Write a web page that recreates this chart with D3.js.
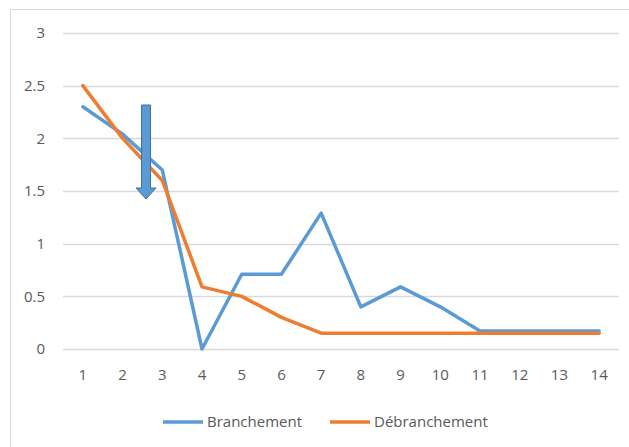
<!DOCTYPE html>
<html>
<head>
<meta charset="utf-8">
<script src="https://cdn.jsdelivr.net/npm/d3@7"></script>
<style>
  body { margin: 0; background: #fff; }
  text { font-family: "Open Sans", sans-serif; }
</style>
</head>
<body>
<div id="chart"></div>
<script>
var categories = [1, 2, 3, 4, 5, 6, 7, 8, 9, 10, 11, 12, 13, 14];
var branchement = [2.3, 2.04, 1.7, 0, 0.71, 0.71, 1.29, 0.4, 0.59, 0.4, 0.17, 0.17, 0.17, 0.17];
var debranchement = [2.5, 2.0, 1.6, 0.59, 0.5, 0.3, 0.15, 0.15, 0.15, 0.15, 0.15, 0.15, 0.15, 0.15];
var yTicks = [0, 0.5, 1, 1.5, 2, 2.5, 3];
var seriesNames = ["Branchement", "Débranchement"];
var colors = ["#5b9bd5", "#ed7d31"];

var w = 629, h = 447;
var margin = {top: 33, right: 10, bottom: 98, left: 63};
var pw = 619 - margin.left, ph = 349 - margin.top;

var svg = d3.select("#chart").append("svg")
  .attr("width", w).attr("height", h);

// outer chart border
svg.append("rect")
  .attr("x", 10.5).attr("y", 9.5)
  .attr("width", 640).attr("height", 460)
  .attr("fill", "none").attr("stroke", "#d9d9d9");

var g = svg.append("g")
  .attr("transform", "translate(" + margin.left + "," + margin.top + ")");

var x = d3.scaleBand().domain(categories).range([0, pw]);
var y = d3.scaleLinear().domain([0, 3]).range([ph, 0]);

// gridlines
g.append("g").selectAll("line")
  .data(yTicks).enter().append("line")
  .attr("x1", 0).attr("x2", pw)
  .attr("y1", function (d) { return Math.round(y(d)) + 0.5; })
  .attr("y2", function (d) { return Math.round(y(d)) + 0.5; })
  .attr("stroke", "#d9d9d9").attr("stroke-width", 1.5);

// y labels
g.append("g").selectAll("text")
  .data(yTicks).enter().append("text")
  .attr("x", -18).attr("y", function (d) { return y(d); })
  .attr("dy", "0.35em")
  .attr("text-anchor", "end")
  .attr("font-size", 15).attr("fill", "#595959")
  .text(function (d) { return d; });

// x labels
g.append("g").selectAll("text")
  .data(categories).enter().append("text")
  .attr("x", function (d) { return x(d) + x.bandwidth() / 2; })
  .attr("y", ph + 31)
  .attr("text-anchor", "middle")
  .attr("font-size", 15).attr("fill", "#595959")
  .text(function (d) { return d; });

var line = d3.line()
  .x(function (d, i) { return x(categories[i]) + x.bandwidth() / 2; })
  .y(function (d) { return y(d); });

[branchement, debranchement].forEach(function (s, i) {
  g.append("path")
    .datum(s)
    .attr("d", line)
    .attr("fill", "none")
    .attr("stroke", colors[i])
    .attr("stroke-width", 3.5)
    .attr("stroke-linejoin", "round")
    .attr("stroke-linecap", "round");
});

// down arrow annotation
var ax = 146, arrowTop = 105, headY = 188, tip = 199;
svg.append("path")
  .attr("d", "M" + (ax - 4.5) + "," + arrowTop + " L" + (ax + 4.5) + "," + arrowTop +
    " L" + (ax + 4.5) + "," + headY + " L" + (ax + 10) + "," + headY +
    " L" + ax + "," + tip + " L" + (ax - 10) + "," + headY +
    " L" + (ax - 4.5) + "," + headY + " Z")
  .attr("fill", "#5b9bd5").attr("stroke", "#41719c").attr("stroke-width", 1);

// legend
var legend = svg.append("g");
var lx = [163, 330];
seriesNames.forEach(function (n, i) {
  legend.append("line")
    .attr("x1", lx[i]).attr("x2", lx[i] + 40)
    .attr("y1", 422).attr("y2", 422)
    .attr("stroke", colors[i]).attr("stroke-width", 3.5);
  legend.append("text")
    .attr("x", lx[i] + 44).attr("y", 422)
    .attr("dy", "0.35em")
    .attr("font-size", 15).attr("fill", "#595959")
    .text(n);
});
</script>
</body>
</html>
